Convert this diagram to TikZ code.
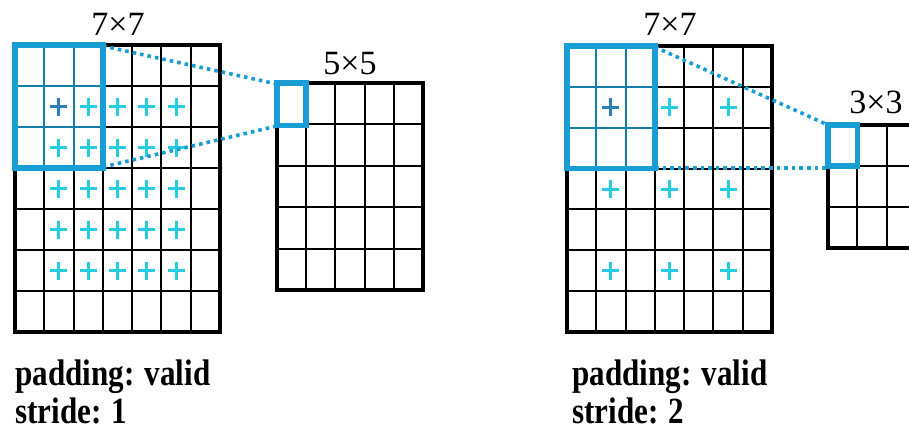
\documentclass[tikz,border=0pt]{standalone}
\usepackage{fontspec}
\setmainfont{Liberation Serif}
\definecolor{kblue}{RGB}{24,158,212}
\definecolor{pcyan}{RGB}{38,204,224}
\definecolor{pdark}{RGB}{44,128,184}
\tikzset{
  gridline/.style={line width=2pt, black},
  kgridline/.style={line width=2pt, kblue!80!black},
  border/.style={line width=4.5pt, black, line join=miter},
  kernel/.style={line width=5.5pt, kblue, line join=miter},
  link/.style={kblue, line width=3.6pt, dash pattern=on 3.6pt off 4pt},
  plus/.style={line width=3pt, pcyan},
  plusdark/.style={line width=3pt, pdark},
  dims/.style={font=\fontsize{34}{34}\selectfont, anchor=base, inner sep=0pt},
  caption/.style={anchor=base west, inner sep=0pt, align=left},
}
\newcommand\mygrid[6]{%
  \foreach \k in {1,...,#5} {\pgfmathsetmacro\xx{#1+(#3-#1)*\k/#5}\draw[gridline] (\xx,#2) -- (\xx,#4);}
  \foreach \k in {1,...,#6} {\pgfmathsetmacro\yy{#2+(#4-#2)*\k/#6}\draw[gridline] (#1,\yy) -- (#3,\yy);}
  \draw[border] (#1,#2) rectangle (#3,#4);
}
\newcommand\myplus[3]{\draw[#3] (#1-8.5,#2) -- (#1+8.5,#2) (#1,#2-9) -- (#1,#2+9);}
\begin{document}
\begin{tikzpicture}[x=1pt,y=-1pt]
\useasboundingbox (0,0) rectangle (909,432);
\clip (0,0) rectangle (909,432);
% ---------- left: stride 1 ----------
\mygrid{15}{45}{220}{332}{7}{7}
\mygrid{277}{83}{423}{290}{5}{5}
\foreach \r in {1,...,5}{\foreach \c in {1,...,5}{%
  \pgfmathsetmacro\px{15+29.286*(\c+0.5)}\pgfmathsetmacro\py{45+41*(\r+0.5)}
  \myplus{\px}{\py}{plus}}}
\myplus{58.9}{106.5}{plusdark}
\draw[kgridline] (44.3,45) -- (44.3,168) (73.6,45) -- (73.6,168) (15,86) -- (102.9,86) (15,127) -- (102.9,127);
\coordinate (a1) at (102.9,46);
\coordinate (a2) at (102.9,167);
\coordinate (b1) at (277,84);
\coordinate (b2) at (277,126);
\draw[link] (a1) -- (b1);
\draw[link] (a2) -- (b2);
\draw[kernel] (15,45) rectangle (102.9,168);
\draw[kernel] (277,83) rectangle (306.2,125.5);
\node[dims] (lblA) at (118,35) {7×7};
\node[dims] (lblB) at (350,74) {5×5};
\node[caption] (capA) at (15,385) {\scalebox{0.84}[1]{\fontsize{37}{40}\selectfont\bfseries padding: valid}};
\node[caption] (capA2) at (15,423) {\scalebox{0.84}[1]{\fontsize{37}{40}\selectfont\bfseries stride: 1}};
% ---------- right: stride 2 ----------
\mygrid{567}{46}{772}{332}{7}{7}
\mygrid{828}{125}{916}{248}{3}{3}
\foreach \r in {1,3,5}{\foreach \c in {1,3,5}{%
  \pgfmathsetmacro\px{567+29.286*(\c+0.5)}\pgfmathsetmacro\py{46+40.857*(\r+0.5)}
  \myplus{\px}{\py}{plus}}}
\myplus{610.9}{107.3}{plusdark}
\draw[kgridline] (596.3,46) -- (596.3,168) (625.6,46) -- (625.6,168) (567,86.9) -- (654.9,86.9) (567,127.7) -- (654.9,127.7);
\coordinate (c1) at (654.9,47);
\coordinate (c2) at (654.9,168);
\coordinate (d1) at (828,125);
\coordinate (d2) at (828,168);
\draw[link] (c1) -- (d1);
\draw[link] (c2) -- (d2);
\draw[kernel] (567,46) rectangle (654.9,168.5);
\draw[kernel] (828,125) rectangle (857.3,166);
\node[dims] (lblC) at (670,35) {7×7};
\node[dims] (lblD) at (876,113) {3×3};
\node[caption] (capC) at (572,385) {\scalebox{0.84}[1]{\fontsize{37}{40}\selectfont\bfseries padding: valid}};
\node[caption] (capC2) at (572,423) {\scalebox{0.84}[1]{\fontsize{37}{40}\selectfont\bfseries stride: 2}};
\end{tikzpicture}
\end{document}
